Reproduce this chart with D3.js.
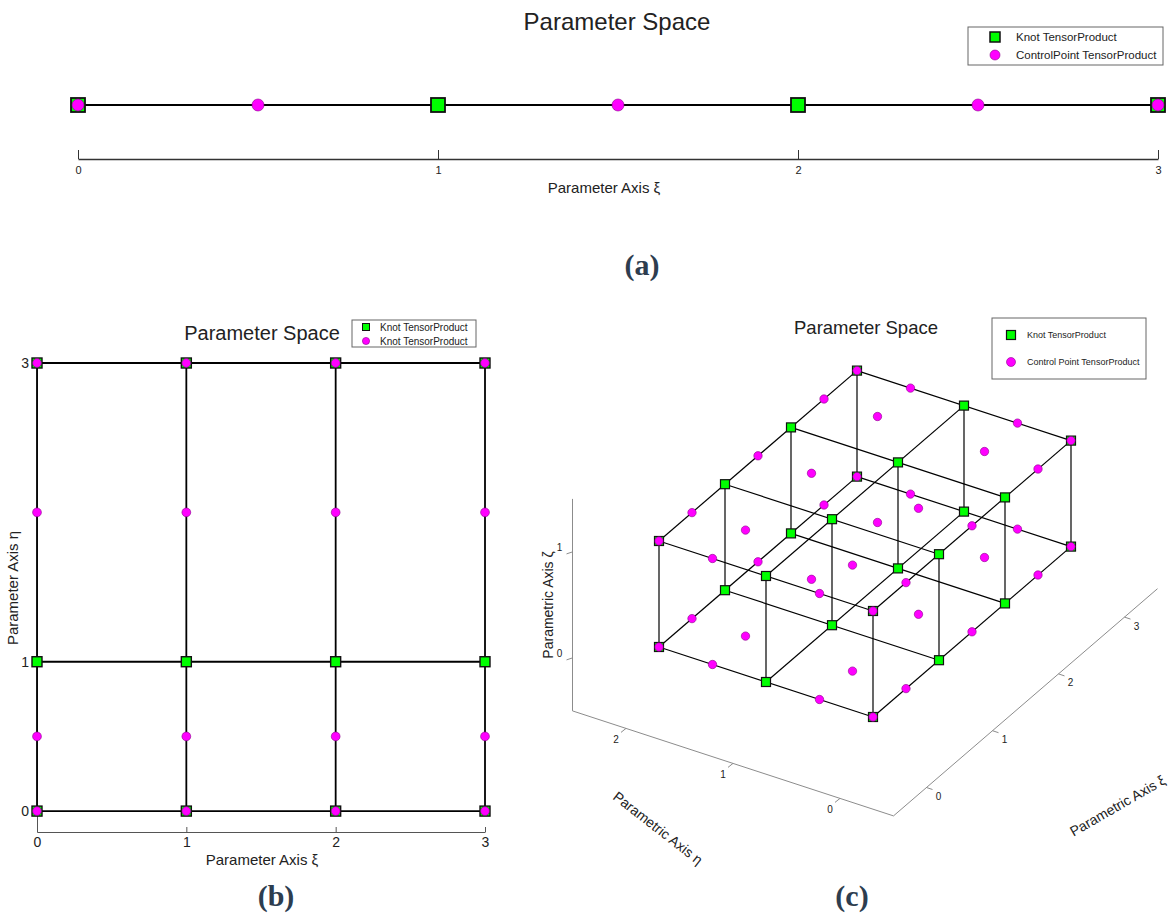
<!DOCTYPE html>
<html>
<head>
<meta charset="utf-8">
<title>Parameter Space</title>
<style type="text/css">
body { margin: 0; background: #fff; }
text { font-family: "Liberation Sans", Arial, sans-serif; fill: #222; }
.caption { font-family: "Liberation Serif", "DejaVu Serif", serif; font-weight: bold; font-size: 30px; fill: #2d3d4f; }
.grid { stroke: #000; fill: none; }
.knot { fill: #00ff00; stroke: #111; }
.ctrl { fill: #ff00ff; stroke: #8a008a; stroke-width: 0.6; }
.legend rect.box { fill: #fff; stroke: #666; stroke-width: 1; }
.axis3d { stroke: #8c8c8c; stroke-width: 1; fill: none; }
</style>
</head>
<body>
<svg width="1168" height="915"></svg>
<script src="https://cdn.jsdelivr.net/npm/d3@7"></script>
<script type="text/javascript">
// (a) one-dimensional parameter space
var knotsA = [0, 1, 2, 3];
var ctrlA = [0, 0.5, 1.5, 2.5, 3];
var ticksA = [0, 1, 2, 3];

// (b) two-dimensional parameter space
var knotsXiB = [0, 1, 2, 3];
var knotsEtaB = [0, 1, 3];
var ctrlXiB = [0, 1, 2, 3];
var ctrlEtaB = [0, 0.5, 2, 3];
var ticksXiB = [0, 1, 2, 3];
var ticksEtaB = [0, 1, 3];

// (c) three-dimensional parameter space
var knotsXiC = [0, 1, 2, 3];
var knotsEtaC = [0, 1, 2];
var knotsZetaC = [0, 1];
var ctrlXiC = [0, 0.5, 1.5, 2.5, 3];
var ctrlEtaC = [0, 0.5, 1.5, 2];
var ctrlZetaC = [0, 1];
var ticksXiC = [0, 1, 2, 3];
var ticksEtaC = [0, 1, 2];
var ticksZetaC = [0, 1];

var svg = d3.select("svg");
var fmt = d3.format("d");

function legend(g, items, opt) {
    g.attr("class", "legend");
    g.append("rect").attr("class", "box")
        .attr("x", 0).attr("y", 0).attr("width", opt.w).attr("height", opt.h);
    items.forEach(function(it, i) {
        var y = opt.y0 + i * opt.dy;
        if (it.type === "knot") {
            g.append("rect").attr("class", "knot")
                .attr("x", opt.mx - opt.s / 2).attr("y", y - opt.s / 2)
                .attr("width", opt.s).attr("height", opt.s)
                .attr("stroke-width", opt.sw);
        } else {
            g.append("circle").attr("class", "ctrl")
                .attr("cx", opt.mx).attr("cy", y).attr("r", opt.r);
        }
        g.append("text").attr("x", opt.tx).attr("y", y).attr("dy", "0.35em")
            .style("font-size", opt.fs + "px").text(it.label);
    });
}

// ---------- (a) ----------
var ga = svg.append("g");
var xA = d3.scaleLinear().domain([0, 3]).range([78, 1158]);
var yLineA = 105;

ga.append("text").attr("x", 617).attr("y", 30).attr("text-anchor", "middle")
    .style("font-size", "24px").text("Parameter Space");

ga.append("line").attr("class", "grid")
    .attr("x1", xA(d3.min(knotsA))).attr("x2", xA(d3.max(knotsA)))
    .attr("y1", yLineA).attr("y2", yLineA).attr("stroke-width", 2);

ga.selectAll("rect.knot").data(knotsA).enter().append("rect")
    .attr("class", "knot").attr("stroke-width", 1.8)
    .attr("x", function(d) { return xA(d) - 7; }).attr("y", yLineA - 7)
    .attr("width", 14).attr("height", 14);

ga.selectAll("circle.ctrl").data(ctrlA).enter().append("circle")
    .attr("class", "ctrl")
    .attr("cx", function(d) { return xA(d); }).attr("cy", yLineA).attr("r", 6);

var axA = ga.append("g").attr("transform", "translate(0,159)")
    .call(d3.axisBottom(xA).tickValues(ticksA).tickFormat(fmt).tickSize(-9).tickSizeOuter(0).tickPadding(7));
axA.select(".domain").attr("stroke", "#333").attr("stroke-width", 1.3);
axA.selectAll(".tick line").attr("stroke", "#333");
axA.selectAll(".tick text").style("font-size", "11px").style("font-family", "Liberation Sans, Arial, sans-serif").attr("fill", "#444");

ga.append("text").attr("x", 604).attr("y", 193).attr("text-anchor", "middle")
    .style("font-size", "15px").text("Parameter Axis ξ");

legend(ga.append("g").attr("transform", "translate(968,27)"),
    [{ type: "knot", label: "Knot TensorProduct" }, { type: "ctrl", label: "ControlPoint TensorProduct" }],
    { w: 195, h: 38, y0: 10, dy: 18, mx: 27, s: 10, sw: 1.5, r: 5, tx: 48, fs: 11.5 });

svg.append("text").attr("class", "caption").attr("x", 642).attr("y", 275)
    .attr("text-anchor", "middle").text("(a)");

// ---------- (b) ----------
var gb = svg.append("g");
var xB = d3.scaleLinear().domain([0, 3]).range([37, 485]);
var yB = d3.scaleLinear().domain([-0.14, 3]).range([832, 363]);

gb.append("text").attr("x", 262).attr("y", 340).attr("text-anchor", "middle")
    .style("font-size", "20px").text("Parameter Space");

var axBx = gb.append("g").attr("transform", "translate(0," + yB(-0.14) + ")")
    .call(d3.axisBottom(xB).tickValues(ticksXiB).tickFormat(fmt).tickSize(-5).tickSizeOuter(0).tickPadding(5));
var axBy = gb.append("g").attr("transform", "translate(" + xB(0) + ",0)")
    .call(d3.axisLeft(yB).tickValues(ticksEtaB).tickFormat(fmt).tickSize(-5).tickSizeOuter(0).tickPadding(8));
[axBx, axBy].forEach(function(a) {
    a.select(".domain").attr("stroke", "#555");
    a.selectAll(".tick line").attr("stroke", "#555");
    a.selectAll(".tick text").style("font-size", "14px").style("font-family", "Liberation Sans, Arial, sans-serif").attr("fill", "#222");
});

// grid lines: columns at knots in xi, rows at knots in eta
gb.selectAll("line.col").data(knotsXiB).enter().append("line").attr("class", "grid col")
    .attr("stroke-width", 1.8)
    .attr("x1", function(d) { return xB(d); }).attr("x2", function(d) { return xB(d); })
    .attr("y1", yB(d3.min(knotsEtaB))).attr("y2", yB(d3.max(knotsEtaB)));
gb.selectAll("line.row").data(knotsEtaB).enter().append("line").attr("class", "grid row")
    .attr("stroke-width", 1.8)
    .attr("y1", function(d) { return yB(d); }).attr("y2", function(d) { return yB(d); })
    .attr("x1", xB(d3.min(knotsXiB))).attr("x2", xB(d3.max(knotsXiB)));

var knotPtsB = d3.cross(knotsXiB, knotsEtaB);
var ctrlPtsB = d3.cross(ctrlXiB, ctrlEtaB);
gb.selectAll("rect.knot").data(knotPtsB).enter().append("rect")
    .attr("class", "knot").attr("stroke-width", 1.4)
    .attr("x", function(d) { return xB(d[0]) - 5; }).attr("y", function(d) { return yB(d[1]) - 5; })
    .attr("width", 10).attr("height", 10);
gb.selectAll("circle.ctrl").data(ctrlPtsB).enter().append("circle")
    .attr("class", "ctrl").attr("r", 4.4)
    .attr("cx", function(d) { return xB(d[0]); }).attr("cy", function(d) { return yB(d[1]); });

gb.append("text").attr("x", 262).attr("y", 865).attr("text-anchor", "middle")
    .style("font-size", "15px").text("Parameter Axis ξ");
gb.append("text").attr("transform", "translate(18,588) rotate(-90)").attr("text-anchor", "middle")
    .style("font-size", "15px").text("Parameter Axis η");

legend(gb.append("g").attr("transform", "translate(352,320)"),
    [{ type: "knot", label: "Knot TensorProduct" }, { type: "ctrl", label: "Knot TensorProduct" }],
    { w: 124, h: 27, y0: 7, dy: 14, mx: 14, s: 7, sw: 1, r: 3.6, tx: 28, fs: 10 });

svg.append("text").attr("class", "caption").attr("x", 276).attr("y", 906)
    .attr("text-anchor", "middle").text("(b)");

// ---------- (c) ----------
var gc = svg.append("g");
var org = [873, 717];
var xiX = d3.scaleLinear().domain([0, 1]).range([0, 66]);
var xiY = d3.scaleLinear().domain([0, 1]).range([0, -56.8]);
var etaX = d3.scaleLinear().domain([0, 1]).range([0, -107]);
var etaY = d3.scaleLinear().domain([0, 1]).range([0, -35]);
var zetaY = d3.scaleLinear().domain([0, 1]).range([0, -106]);
function proj(a, b, c) {
    return [org[0] + xiX(a) + etaX(b), org[1] + xiY(a) + etaY(b) + zetaY(c)];
}
var lim = { xi: [-0.5, 3.5], eta: [-0.5, 2.5], zeta: [-0.5, 1.5] };
var seg = d3.line();

gc.append("text").attr("x", 866).attr("y", 334).attr("text-anchor", "middle")
    .style("font-size", "18.5px").text("Parameter Space");

// axis box lines
var cornerL = proj(lim.xi[0], lim.eta[1], lim.zeta[0]);
gc.append("path").attr("class", "axis3d")
    .attr("d", seg([proj(lim.xi[0], lim.eta[1], lim.zeta[1]), cornerL,
        proj(lim.xi[0], lim.eta[0], lim.zeta[0]), proj(lim.xi[1], lim.eta[0], lim.zeta[0])]));

// ticks
function tick3d(p, dx, dy, lx, ly, label) {
    gc.append("line").attr("class", "axis3d").attr("x1", p[0]).attr("y1", p[1])
        .attr("x2", p[0] + dx).attr("y2", p[1] + dy);
    gc.append("text").attr("x", p[0] + lx).attr("y", p[1] + ly).attr("text-anchor", "middle")
        .attr("dy", "0.35em").style("font-size", "10px").attr("fill", "#555").text(label);
}
ticksXiC.forEach(function(t) { tick3d(proj(t, lim.eta[0], lim.zeta[0]), 6, 2, 12, 9, t); });
ticksEtaC.forEach(function(t) { tick3d(proj(lim.xi[0], t, lim.zeta[0]), -5, 4, -10, 11, t); });
ticksZetaC.forEach(function(t) { tick3d(proj(lim.xi[0], lim.eta[1], t), -6, 2, -13, -4, t); });

// lattice lines through the knots
var linesC = [];
knotsEtaC.forEach(function(e) { knotsZetaC.forEach(function(z) {
    linesC.push([proj(d3.min(knotsXiC), e, z), proj(d3.max(knotsXiC), e, z)]); }); });
knotsXiC.forEach(function(x) { knotsZetaC.forEach(function(z) {
    linesC.push([proj(x, d3.min(knotsEtaC), z), proj(x, d3.max(knotsEtaC), z)]); }); });
knotsXiC.forEach(function(x) { knotsEtaC.forEach(function(e) {
    linesC.push([proj(x, e, d3.min(knotsZetaC)), proj(x, e, d3.max(knotsZetaC))]); }); });
gc.selectAll("path.lat").data(linesC).enter().append("path")
    .attr("class", "grid lat").attr("stroke-width", 1.2).attr("stroke", "#222")
    .attr("d", seg);

var knotPtsC = [];
knotsXiC.forEach(function(x) { knotsEtaC.forEach(function(e) { knotsZetaC.forEach(function(z) {
    knotPtsC.push(proj(x, e, z)); }); }); });
var ctrlPtsC = [];
ctrlXiC.forEach(function(x) { ctrlEtaC.forEach(function(e) { ctrlZetaC.forEach(function(z) {
    ctrlPtsC.push(proj(x, e, z)); }); }); });

gc.selectAll("rect.knot").data(knotPtsC).enter().append("rect")
    .attr("class", "knot").attr("stroke-width", 1.2)
    .attr("x", function(d) { return d[0] - 4.5; }).attr("y", function(d) { return d[1] - 4.5; })
    .attr("width", 9).attr("height", 9);
gc.selectAll("circle.ctrl").data(ctrlPtsC).enter().append("circle")
    .attr("class", "ctrl").attr("r", 4.2)
    .attr("cx", function(d) { return d[0]; }).attr("cy", function(d) { return d[1]; });

// axis titles
gc.append("text").attr("transform", "translate(553,605) rotate(-90)").attr("text-anchor", "middle")
    .style("font-size", "14px").text("Parametric Axis ζ");
gc.append("text").attr("transform", "translate(655,832) rotate(38)").attr("text-anchor", "middle")
    .style("font-size", "14px").text("Parametric Axis η");
gc.append("text").attr("transform", "translate(1120,810) rotate(-30)").attr("text-anchor", "middle")
    .style("font-size", "14px").text("Parametric Axis ξ");

legend(gc.append("g").attr("transform", "translate(992,318)"),
    [{ type: "knot", label: "Knot TensorProduct" }, { type: "ctrl", label: "Control Point TensorProduct" }],
    { w: 154, h: 61, y0: 17, dy: 27, mx: 19, s: 9, sw: 1.2, r: 4.5, tx: 35, fs: 9 });

svg.append("text").attr("class", "caption").attr("x", 852).attr("y", 906)
    .attr("text-anchor", "middle").text("(c)");
</script>
</body>
</html>
